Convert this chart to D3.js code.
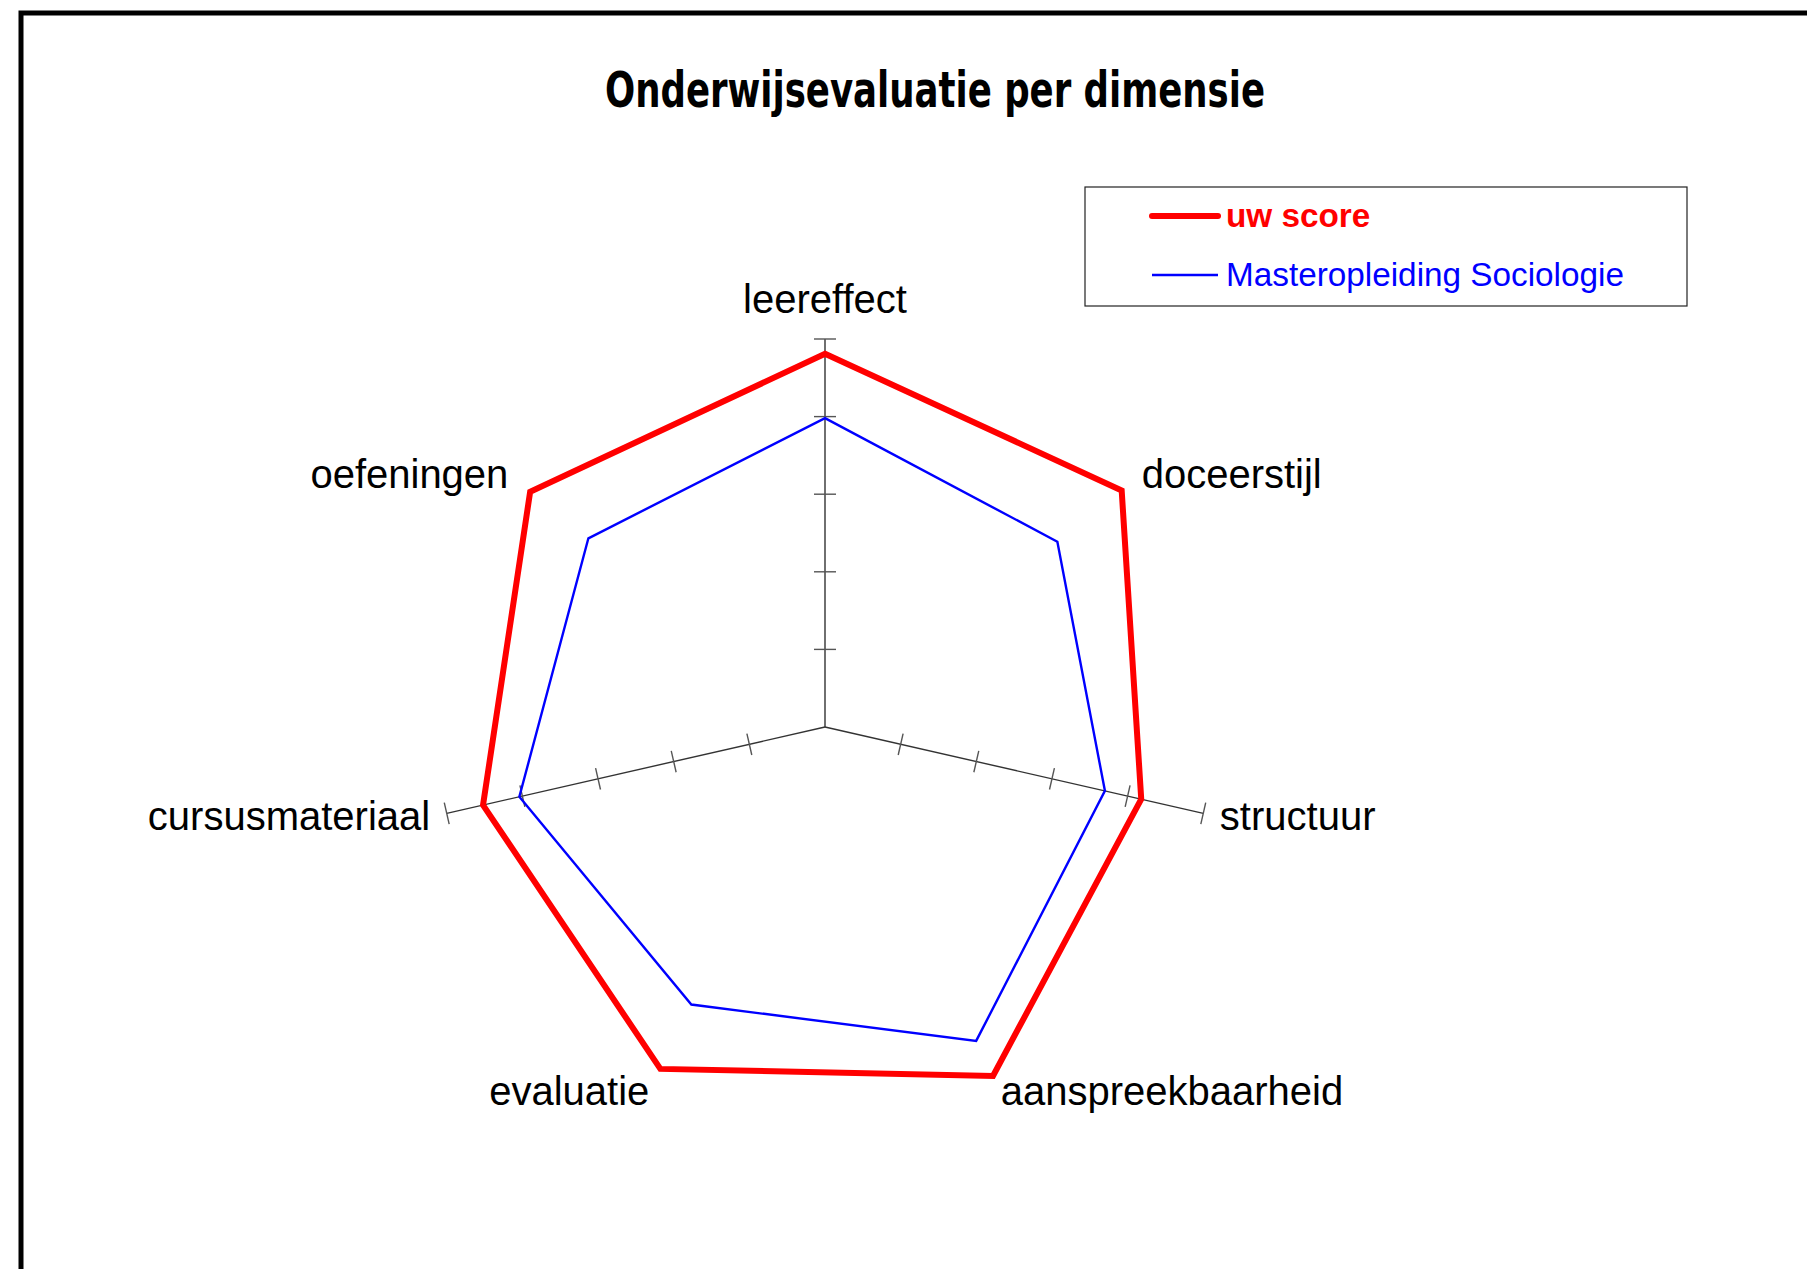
<!DOCTYPE html>
<html>
<head>
<meta charset="utf-8">
<script src="https://cdn.jsdelivr.net/npm/d3@7"></script>
<style>
  body { margin: 0; background: #fff; }
  svg { display: block; }
</style>
</head>
<body>
<div id="chart"></div>
<script>
// dimensions, clockwise from the top
let dimensions = ['leereffect','doceerstijl','structuur','aanspreekbaarheid','evaluatie','cursusmateriaal','oefeningen'];
let uwScore = [4.81, 4.89, 4.18, 4.99, 4.89, 4.52, 4.86];
let masterScore = [3.98, 3.83, 3.70, 4.49, 3.97, 4.04, 3.90];
let seriesNames = ['uw score', 'Masteropleiding Sociologie'];
let seriesColors = ['#ff0000', '#0000ff'];
let axisDims = ['leereffect','structuur','cursusmateriaal'];
let tickValues = [1,2,3,4,5];

let width = 1807,
	height = 1269,
	cx = 825,
	cy = 727;

let rScale = d3.scaleLinear()
	.domain([0, 5])
	.range([0, 388]);

let angle = d3.scaleLinear()
	.domain([0, dimensions.length])
	.range([0, 2 * Math.PI]);

let svg = d3.select('#chart').append('svg')
	.attr('width', width)
	.attr('height', height);

// outer frame (runs off the right and bottom edge)
svg.append('rect')
	.attr('x', 21).attr('y', 13)
	.attr('width', width).attr('height', height)
	.attr('fill', 'none')
	.attr('stroke', '#000')
	.attr('stroke-width', 5);

svg.append('text')
	.attr('x', 935).attr('y', 107)
	.attr('text-anchor', 'middle')
	.attr('textLength', 660)
	.attr('lengthAdjust', 'spacingAndGlyphs')
	.style('font-family', '"Liberation Sans Narrow", "DejaVu Sans Condensed", sans-serif')
	.style('font-weight', 'bold')
	.style('font-size', '50px')
	.text('Onderwijsevaluatie per dimensie');

let g = svg.append('g').attr('transform', 'translate(' + cx + ',' + cy + ')');

let pt = (i, v) => {
	let a = angle(i);
	return [Math.sin(a) * rScale(v), -Math.cos(a) * rScale(v)];
};

// the three drawn axes with their ticks
axisDims.forEach(name => {
	let i = dimensions.indexOf(name);
	let a = angle(i);
	let end = pt(i, 5);
	g.append('line')
		.attr('x1', 0).attr('y1', 0)
		.attr('x2', end[0]).attr('y2', end[1])
		.attr('stroke', '#333')
		.attr('stroke-width', 1.4);
	let px = Math.cos(a) * 11, py = Math.sin(a) * 11;
	g.selectAll(null)
		.data(tickValues)
		.enter().append('line')
		.attr('x1', d => pt(i, d)[0] - px)
		.attr('y1', d => pt(i, d)[1] - py)
		.attr('x2', d => pt(i, d)[0] + px)
		.attr('y2', d => pt(i, d)[1] + py)
		.attr('stroke', '#555')
		.attr('stroke-width', 1.4);
});

let radial = d3.lineRadial()
	.angle((d, i) => angle(i))
	.radius(d => rScale(d))
	.curve(d3.curveLinearClosed);

g.append('path')
	.attr('d', radial(masterScore))
	.attr('fill', 'none')
	.attr('stroke', seriesColors[1])
	.attr('stroke-width', 2.4);

g.append('path')
	.attr('d', radial(uwScore))
	.attr('fill', 'none')
	.attr('stroke', seriesColors[0])
	.attr('stroke-width', 6)
	.attr('stroke-linejoin', 'miter');

// dimension labels
g.selectAll('text.lab')
	.data(dimensions)
	.enter().append('text')
	.attr('class', 'lab')
	.attr('x', (d, i) => Math.sin(angle(i)) * (rScale(5) + 17))
	.attr('y', (d, i) => {
		let c = Math.cos(angle(i));
		let y = -c * (rScale(5) + 17);
		return c > 0.99 ? y - 9 : y + 13;
	})
	.attr('text-anchor', (d, i) => {
		let s = Math.sin(angle(i));
		return s > 0.01 ? 'start' : (s < -0.01 ? 'end' : 'middle');
	})
	.style('font-family', '"Liberation Sans", Arial, sans-serif')
	.style('font-size', '40px')
	.text(d => d);

// legend
let legend = svg.append('g');
legend.append('rect')
	.attr('x', 1085).attr('y', 187)
	.attr('width', 602).attr('height', 119)
	.attr('fill', '#fff')
	.attr('stroke', '#222')
	.attr('stroke-width', 1.2);

let legY = [216, 275];
legend.selectAll('line')
	.data(seriesNames)
	.enter().append('line')
	.attr('x1', 1152).attr('x2', 1218)
	.attr('y1', (d, i) => legY[i]).attr('y2', (d, i) => legY[i])
	.attr('stroke', (d, i) => seriesColors[i])
	.attr('stroke-width', (d, i) => i == 0 ? 6 : 2.4)
	.attr('stroke-linecap', (d, i) => i == 0 ? 'round' : 'butt');

legend.selectAll('text')
	.data(seriesNames)
	.enter().append('text')
	.attr('x', 1226)
	.attr('y', (d, i) => legY[i] + 11)
	.attr('fill', (d, i) => seriesColors[i])
	.style('font-family', '"Liberation Sans", Arial, sans-serif')
	.style('font-size', '33.3px')
	.style('font-weight', (d, i) => i == 0 ? 'bold' : 'normal')
	.text(d => d);
</script>
</body>
</html>
